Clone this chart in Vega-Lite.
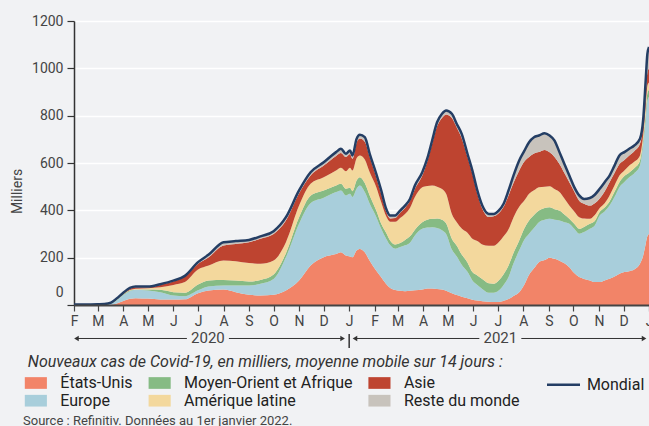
{
  "$schema": "https://vega.github.io/schema/vega-lite/v6.json",
  "width": 575,
  "height": 284,
  "autosize": {"type": "none"},
  "padding": {"left": 74, "top": 21, "right": 0, "bottom": 121},
  "background": "#f1f2f4",
  "config": {
    "font": "Roboto",
    "view": {"stroke": null},
    "legend": {"padding": 0, "labelFont": "Roboto", "titleFont": "Roboto"}
  },
  "title": {
    "text": "Source : Refinitiv. Données au 1er janvier 2022.",
    "orient": "bottom",
    "anchor": "start",
    "frame": "group",
    "offset": 6,
    "dx": -51,
    "fontSize": 13,
    "fontWeight": "normal",
    "color": "#444"
  },
  "datasets": {
    "regions": [
      {"key": "us", "name": "États-Unis", "rank": 1},
      {"key": "eu", "name": "Europe", "rank": 2},
      {"key": "mea", "name": "Moyen-Orient et Afrique", "rank": 3},
      {"key": "lat", "name": "Amérique latine", "rank": 4},
      {"key": "asia", "name": "Asie", "rank": 5},
      {"key": "rest", "name": "Reste du monde", "rank": 6}
    ],
    "years": [
      {"year": "2020", "start": "2020-02-04", "end": "2020-12-24", "mid": "2020-07-13"},
      {"year": "2021", "start": "2021-01-08", "end": "2021-12-26", "mid": "2021-07-04"}
    ],
    "covid": [
      {"d":"2020-02-01","us":0,"eu":0,"mea":0,"lat":0,"asia":2,"rest":0,"world":2},
      {"d":"2020-02-16","us":0,"eu":0,"mea":0,"lat":0,"asia":2,"rest":0,"world":2},
      {"d":"2020-03-01","us":0,"eu":1,"mea":1,"lat":0,"asia":1,"rest":0,"world":3},
      {"d":"2020-03-09","us":0.3,"eu":1.7,"mea":1,"lat":0,"asia":1,"rest":0,"world":4},
      {"d":"2020-03-17","us":1,"eu":5,"mea":1,"lat":0,"asia":2,"rest":1,"world":10},
      {"d":"2020-03-24","us":6,"eu":14,"mea":2,"lat":1,"asia":3,"rest":2,"world":28},
      {"d":"2020-04-01","us":17,"eu":25,"mea":2,"lat":2,"asia":4,"rest":2,"world":52},
      {"d":"2020-04-09","us":26,"eu":32,"mea":3,"lat":2,"asia":5,"rest":4,"world":72},
      {"d":"2020-04-16","us":29,"eu":35,"mea":2,"lat":3,"asia":6,"rest":3,"world":78},
      {"d":"2020-05-01","us":27,"eu":34,"mea":4,"lat":6,"asia":4,"rest":3,"world":78},
      {"d":"2020-05-16","us":23,"eu":31,"mea":10,"lat":11,"asia":10,"rest":3,"world":88},
      {"d":"2020-06-01","us":23,"eu":17,"mea":14,"lat":31,"asia":14,"rest":4,"world":103},
      {"d":"2020-06-15","us":24,"eu":13,"mea":15,"lat":45,"asia":23,"rest":3,"world":123},
      {"d":"2020-07-01","us":50,"eu":12,"mea":25,"lat":63,"asia":24,"rest":7,"world":181},
      {"d":"2020-07-14","us":61,"eu":17,"mea":26,"lat":63,"asia":35,"rest":11,"world":213},
      {"d":"2020-08-01","us":65,"eu":17,"mea":24,"lat":82,"asia":63,"rest":14,"world":265},
      {"d":"2020-08-16","us":54,"eu":28,"mea":21,"lat":82,"asia":73,"rest":12,"world":270},
      {"d":"2020-09-01","us":43,"eu":39,"mea":17,"lat":78,"asia":88,"rest":10,"world":275},
      {"d":"2020-09-15","us":40,"eu":50,"mea":16,"lat":68,"asia":106,"rest":10,"world":290},
      {"d":"2020-10-01","us":43,"eu":67,"mea":19,"lat":59,"asia":112,"rest":12,"world":312},
      {"d":"2020-10-16","us":61,"eu":141,"mea":17,"lat":46,"asia":92,"rest":14,"world":371},
      {"d":"2020-11-01","us":103,"eu":240,"mea":28,"lat":49,"asia":52,"rest":12,"world":484},
      {"d":"2020-11-15","us":167,"eu":263,"mea":32,"lat":50,"asia":35,"rest":14,"world":561},
      {"d":"2020-12-01","us":202,"eu":251,"mea":31,"lat":56,"asia":49,"rest":14,"world":603},
      {"d":"2020-12-16","us":216,"eu":261,"mea":28,"lat":63,"asia":62,"rest":16,"world":646},
      {"d":"2020-12-22","us":223,"eu":261,"mea":28,"lat":68,"asia":62,"rest":18,"world":660},
      {"d":"2020-12-28","us":209,"eu":254,"mea":28,"lat":74,"asia":60,"rest":14,"world":639},
      {"d":"2021-01-02","us":205,"eu":265,"mea":25,"lat":85,"asia":58,"rest":15,"world":653},
      {"d":"2021-01-05","us":202,"eu":254,"mea":25,"lat":87,"asia":50,"rest":14,"world":632},
      {"d":"2021-01-10","us":230,"eu":261,"mea":35,"lat":94,"asia":66,"rest":16,"world":702},
      {"d":"2021-01-14","us":237,"eu":268,"mea":35,"lat":92,"asia":71,"rest":16,"world":719},
      {"d":"2021-01-20","us":223,"eu":254,"mea":38,"lat":100,"asia":75,"rest":19,"world":709},
      {"d":"2021-01-26","us":187,"eu":241,"mea":35,"lat":98,"asia":64,"rest":14,"world":639},
      {"d":"2021-02-03","us":145,"eu":227,"mea":27,"lat":99,"asia":42,"rest":14,"world":554},
      {"d":"2021-02-09","us":117,"eu":205,"mea":21,"lat":91,"asia":36,"rest":14,"world":484},
      {"d":"2021-02-15","us":89,"eu":191,"mea":25,"lat":70,"asia":20,"rest":12,"world":407},
      {"d":"2021-02-20","us":72,"eu":180,"mea":20,"lat":80,"asia":14,"rest":12,"world":378},
      {"d":"2021-02-26","us":63,"eu":175,"mea":18,"lat":96,"asia":16,"rest":10,"world":378},
      {"d":"2021-03-04","us":60,"eu":185,"mea":17,"lat":106,"asia":22,"rest":9,"world":399},
      {"d":"2021-03-10","us":58,"eu":194,"mea":23,"lat":110,"asia":25,"rest":10,"world":420},
      {"d":"2021-03-16","us":60,"eu":203,"mea":27,"lat":120,"asia":30,"rest":8,"world":448},
      {"d":"2021-03-22","us":62,"eu":232,"mea":24,"lat":138,"asia":34,"rest":15,"world":505},
      {"d":"2021-03-31","us":65,"eu":257,"mea":28,"lat":148,"asia":49,"rest":14,"world":561},
      {"d":"2021-04-06","us":70,"eu":257,"mea":33,"lat":143,"asia":102,"rest":13,"world":618},
      {"d":"2021-04-12","us":70,"eu":259,"mea":35,"lat":141,"asia":176,"rest":14,"world":695},
      {"d":"2021-04-18","us":68,"eu":257,"mea":41,"lat":134,"asia":255,"rest":17,"world":772},
      {"d":"2021-04-24","us":66,"eu":250,"mea":44,"lat":130,"asia":300,"rest":18,"world":808},
      {"d":"2021-04-29","us":60,"eu":240,"mea":45,"lat":125,"asia":335,"rest":17,"world":822},
      {"d":"2021-05-06","us":50,"eu":184,"mea":46,"lat":105,"asia":405,"rest":18,"world":808},
      {"d":"2021-05-12","us":42,"eu":163,"mea":45,"lat":100,"asia":400,"rest":15,"world":765},
      {"d":"2021-05-18","us":35,"eu":135,"mea":43,"lat":110,"asia":382,"rest":18,"world":723},
      {"d":"2021-05-25","us":28,"eu":112,"mea":40,"lat":125,"asia":320,"rest":14,"world":639},
      {"d":"2021-05-31","us":22,"eu":82,"mea":35,"lat":141,"asia":275,"rest":13,"world":568},
      {"d":"2021-06-06","us":19,"eu":66,"mea":40,"lat":145,"asia":200,"rest":14,"world":484},
      {"d":"2021-06-12","us":16,"eu":52,"mea":42,"lat":146,"asia":152,"rest":12,"world":420},
      {"d":"2021-06-20","us":14,"eu":38,"mea":40,"lat":158,"asia":122,"rest":13,"world":385},
      {"d":"2021-06-26","us":13,"eu":39,"mea":38,"lat":160,"asia":125,"rest":10,"world":385},
      {"d":"2021-07-02","us":13,"eu":48,"mea":43,"lat":161,"asia":123,"rest":11,"world":399},
      {"d":"2021-07-08","us":18,"eu":67,"mea":45,"lat":160,"asia":125,"rest":13,"world":428},
      {"d":"2021-07-14","us":25,"eu":93,"mea":49,"lat":153,"asia":143,"rest":21,"world":484},
      {"d":"2021-07-20","us":38,"eu":137,"mea":45,"lat":150,"asia":145,"rest":32,"world":547},
      {"d":"2021-07-27","us":54,"eu":177,"mea":42,"lat":142,"asia":153,"rest":43,"world":611},
      {"d":"2021-08-02","us":85,"eu":190,"mea":47,"lat":118,"asia":165,"rest":45,"world":650},
      {"d":"2021-08-08","us":128,"eu":173,"mea":56,"lat":113,"asia":155,"rest":63,"world":688},
      {"d":"2021-08-14","us":155,"eu":170,"mea":55,"lat":105,"asia":155,"rest":69,"world":709},
      {"d":"2021-08-20","us":181,"eu":169,"mea":49,"lat":99,"asia":148,"rest":70,"world":716},
      {"d":"2021-08-27","us":190,"eu":170,"mea":50,"lat":90,"asia":155,"rest":71,"world":726},
      {"d":"2021-09-02","us":200,"eu":164,"mea":49,"lat":89,"asia":143,"rest":71,"world":716},
      {"d":"2021-09-08","us":195,"eu":165,"mea":45,"lat":85,"asia":135,"rest":70,"world":695},
      {"d":"2021-09-14","us":187,"eu":170,"mea":42,"lat":78,"asia":119,"rest":50,"world":646},
      {"d":"2021-09-20","us":176,"eu":174,"mea":32,"lat":68,"asia":108,"rest":38,"world":596},
      {"d":"2021-09-26","us":160,"eu":183,"mea":21,"lat":56,"asia":99,"rest":28,"world":547},
      {"d":"2021-10-02","us":135,"eu":187,"mea":21,"lat":52,"asia":85,"rest":18,"world":498},
      {"d":"2021-10-08","us":118,"eu":183,"mea":21,"lat":49,"asia":70,"rest":22,"world":463},
      {"d":"2021-10-14","us":110,"eu":198,"mea":22,"lat":35,"asia":63,"rest":20,"world":448},
      {"d":"2021-10-21","us":104,"eu":218,"mea":21,"lat":21,"asia":56,"rest":32,"world":452},
      {"d":"2021-10-27","us":97,"eu":239,"mea":19,"lat":25,"asia":50,"rest":36,"world":466},
      {"d":"2021-11-02","us":97,"eu":281,"mea":16,"lat":16,"asia":40,"rest":41,"world":491},
      {"d":"2021-11-08","us":104,"eu":291,"mea":17,"lat":18,"asia":50,"rest":39,"world":519},
      {"d":"2021-11-14","us":111,"eu":309,"mea":17,"lat":26,"asia":56,"rest":28,"world":547},
      {"d":"2021-11-20","us":120,"eu":336,"mea":22,"lat":27,"asia":53,"rest":31,"world":589},
      {"d":"2021-11-26","us":132,"eu":366,"mea":21,"lat":28,"asia":49,"rest":36,"world":632},
      {"d":"2021-12-02","us":139,"eu":381,"mea":25,"lat":23,"asia":45,"rest":33,"world":646},
      {"d":"2021-12-08","us":143,"eu":397,"mea":20,"lat":29,"asia":43,"rest":28,"world":660},
      {"d":"2021-12-14","us":150,"eu":406,"mea":22,"lat":27,"asia":45,"rest":24,"world":674},
      {"d":"2021-12-21","us":174,"eu":415,"mea":21,"lat":22,"asia":49,"rest":21,"world":702},
      {"d":"2021-12-25","us":210,"eu":470,"mea":20,"lat":20,"asia":40,"rest":26,"world":786},
      {"d":"2021-12-28","us":259,"eu":521,"mea":30,"lat":30,"asia":50,"rest":60,"world":950},
      {"d":"2021-12-30","us":290,"eu":570,"mea":35,"lat":30,"asia":55,"rest":80,"world":1060},
      {"d":"2022-01-01","us":300,"eu":580,"mea":30,"lat":30,"asia":60,"rest":90,"world":1090}
    ]
  },
  "layer": [
    {
      "data": {"name": "covid"},
      "transform": [
        {"fold": ["us", "eu", "mea", "lat", "asia", "rest"], "as": ["key", "value"]},
        {"lookup": "key", "from": {"data": {"name": "regions"}, "key": "key", "fields": ["name", "rank"]}}
      ],
      "mark": {"type": "area", "interpolate": "monotone"},
      "encoding": {
        "x": {
          "field": "d", "type": "temporal", "title": null,
          "scale": {"type": "utc", "domain": [{"year": 2020, "month": 2, "date": 1, "utc": true}, {"year": 2022, "month": 1, "date": 1, "utc": true}]},
          "axis": {
            "tickCount": {"interval": "month", "step": 1},
            "labelExpr": "slice(utcFormat(datum.value, '%b'), 0, 1)",
            "labelFlush": false, "labelOverlap": false, "labelBound": false,
            "grid": false, "zindex": 1,
            "domainColor": "#444", "domainWidth": 2,
            "tickColor": "#444", "tickSize": 6, "tickWidth": 1.2,
            "labelFontSize": 14, "labelColor": "#444", "labelPadding": 3
          }
        },
        "y": {
          "field": "value", "type": "quantitative", "stack": "zero", "title": "Milliers",
          "scale": {"domain": [0, 1200], "nice": false},
          "axis": {
            "values": [0, 200, 400, 600, 800, 1000, 1200],
            "format": "d",
            "grid": true, "gridColor": "#ffffff", "gridWidth": 1.5, "zindex": 0,
            "domainColor": "#333", "domainWidth": 1.5,
            "tickColor": "#333", "tickSize": 7, "tickWidth": 1.2,
            "labelFontSize": 14, "labelColor": "#444", "labelPadding": 4,
            "labelOffset": {"condition": {"test": "datum.value === 0", "value": -13}, "value": 0},
            "titleX": -57, "titleY": 170, "titleAngle": -90, "titleAlign": "center", "titleBaseline": "middle",
            "titleFontSize": 14, "titleFontWeight": "normal", "titleColor": "#444"
          }
        },
        "color": {
          "field": "name", "type": "nominal",
          "scale": {
            "domain": ["États-Unis", "Moyen-Orient et Afrique", "Asie", "Europe", "Amérique latine", "Reste du monde"],
            "range": ["#f28468", "#86bb84", "#be4430", "#a8cedb", "#f3d89d", "#c8c3bc"]
          },
          "legend": {
            "orient": "none", "legendX": -46.15, "legendY": 333,
            "direction": "horizontal", "columns": 3, "gridAlign": "each",
            "title": "Nouveaux cas de Covid-19, en milliers, moyenne mobile sur 14 jours :",
            "titleFontStyle": "italic", "titleFontWeight": "normal", "titleFontSize": 16,
            "titleColor": "#333", "titlePadding": 5, "titleLimit": 700,
            "symbolType": "M-1.7,-0.9H1.7V0.9H-1.7Z", "symbolSize": 169, "symbolStrokeWidth": 0, "symbolOpacity": 1,
            "labelFontSize": 16, "labelColor": "#222", "labelOffset": 16.45, "labelLimit": 400,
            "columnPadding": 14.8, "rowPadding": 1.7
          }
        },
        "order": {"field": "rank", "type": "quantitative"}
      }
    },
    {
      "data": {"name": "covid"},
      "mark": {"type": "line", "interpolate": "monotone", "strokeWidth": 2.5},
      "encoding": {
        "x": {"field": "d", "type": "temporal", "title": null},
        "y": {"field": "world", "type": "quantitative", "scale": {"domain": [0, 1200], "nice": false}},
        "stroke": {
          "datum": "Mondial", "type": "nominal",
          "scale": {"range": ["#243e64"]},
          "legend": {
            "orient": "none", "legendX": 471.5, "legendY": 345.7, "title": null,
            "symbolType": "stroke", "symbolSize": 1089, "symbolStrokeWidth": 2.5,
            "labelFontSize": 16, "labelColor": "#222", "labelOffset": 5.4
          }
        }
      }
    },
    {
      "data": {"name": "years"},
      "mark": {"type": "rule", "color": "#333", "strokeWidth": 1},
      "encoding": {
        "x": {"field": "start", "type": "temporal", "title": null},
        "x2": {"field": "end"},
        "y": {"datum": -141.5, "type": "quantitative", "scale": {"domain": [0, 1200], "nice": false}}
      }
    },
    {
      "data": {"name": "years"},
      "mark": {"type": "point", "filled": true, "shape": "M-1,-0.4H1V0.4H-1Z", "size": 1764, "color": "#f1f2f4", "opacity": 1},
      "encoding": {
        "x": {"field": "mid", "type": "temporal", "title": null},
        "y": {"datum": -141.5, "type": "quantitative", "scale": {"domain": [0, 1200], "nice": false}}
      }
    },
    {
      "data": {"name": "years"},
      "mark": {"type": "text", "fontSize": 15, "color": "#444", "align": "center", "baseline": "middle"},
      "encoding": {
        "x": {"field": "mid", "type": "temporal", "title": null},
        "y": {"datum": -141.5, "type": "quantitative", "scale": {"domain": [0, 1200], "nice": false}},
        "text": {"field": "year"}
      }
    },
    {
      "data": {"name": "years"},
      "mark": {"type": "point", "filled": true, "shape": "triangle-left", "size": 28, "color": "#333", "opacity": 1},
      "encoding": {
        "x": {"field": "start", "type": "temporal", "title": null},
        "y": {"datum": -141.5, "type": "quantitative", "scale": {"domain": [0, 1200], "nice": false}}
      }
    },
    {
      "data": {"name": "years"},
      "mark": {"type": "point", "filled": true, "shape": "triangle-right", "size": 28, "color": "#333", "opacity": 1},
      "encoding": {
        "x": {"field": "end", "type": "temporal", "title": null},
        "y": {"datum": -141.5, "type": "quantitative", "scale": {"domain": [0, 1200], "nice": false}}
      }
    },
    {
      "data": {"values": [{"d": "2021-01-01"}]},
      "mark": {"type": "rule", "color": "#333", "strokeWidth": 1.5},
      "encoding": {
        "x": {"field": "d", "type": "temporal", "title": null},
        "y": {"datum": -122.5, "type": "quantitative", "scale": {"domain": [0, 1200], "nice": false}},
        "y2": {"datum": -181.7}
      }
    }
  ]
}
